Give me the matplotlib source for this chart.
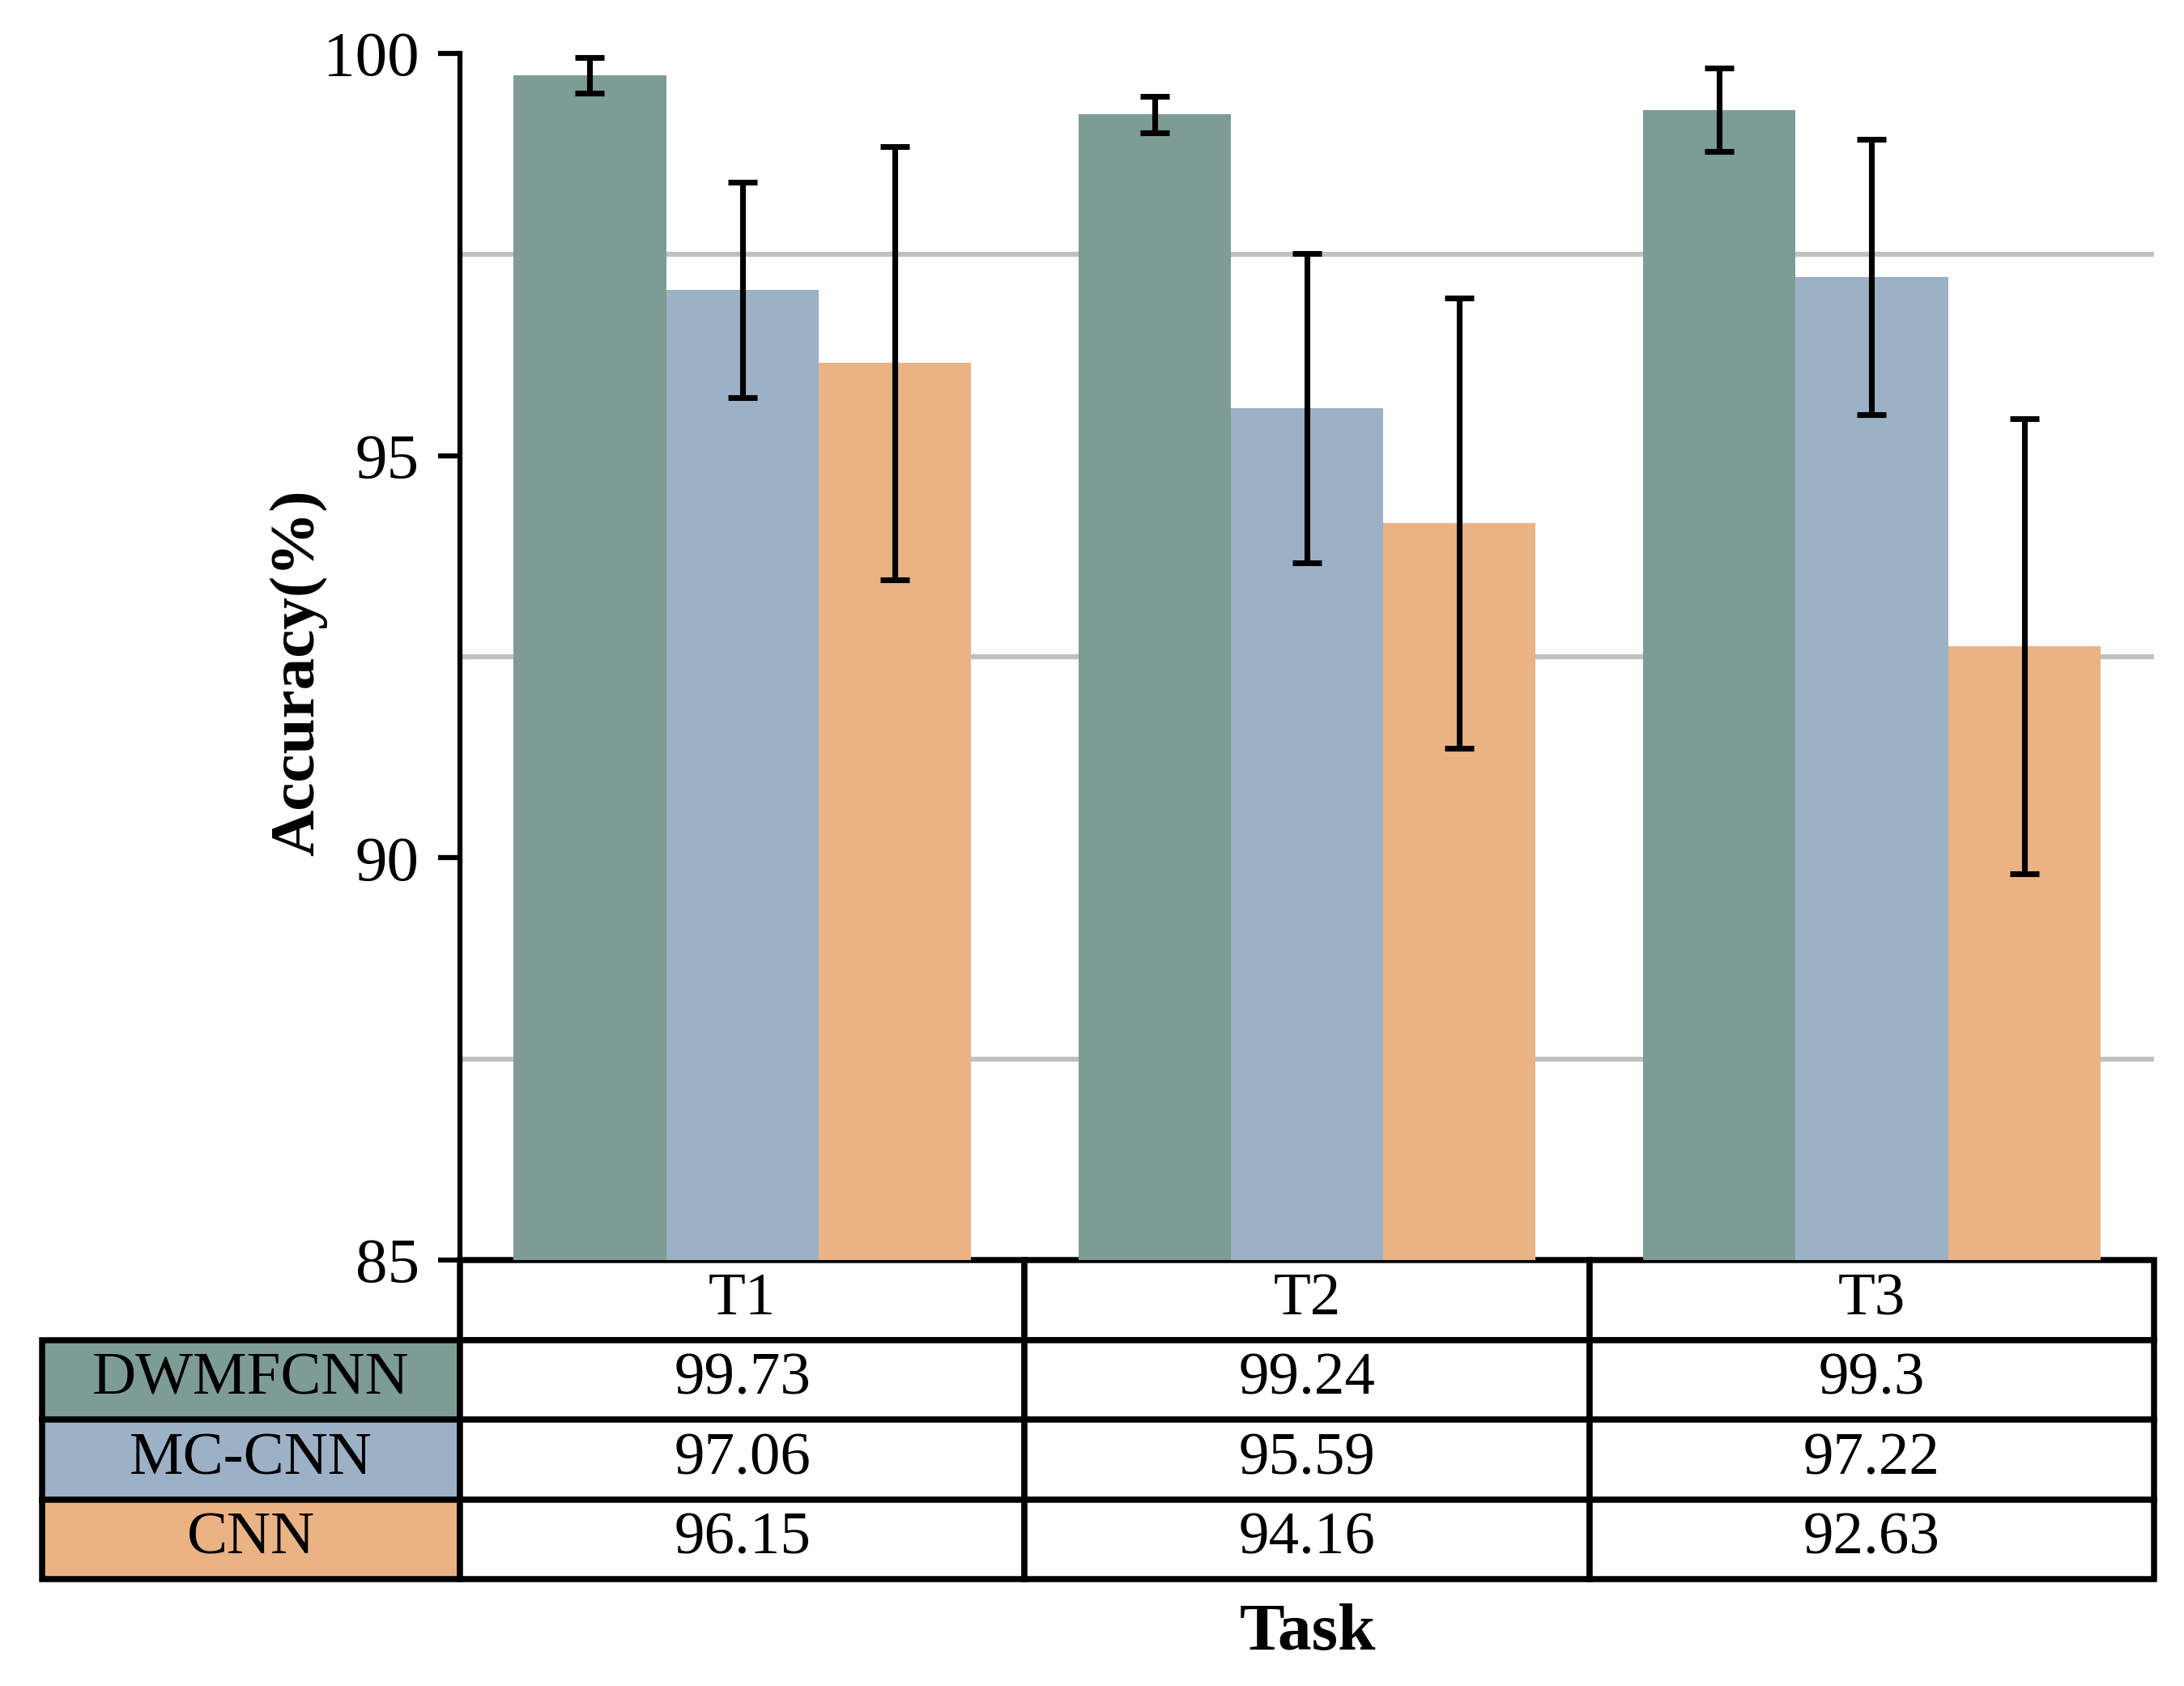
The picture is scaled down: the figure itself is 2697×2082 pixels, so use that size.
import matplotlib
matplotlib.use("Agg")
import matplotlib.pyplot as plt
import numpy as np

plt.rcParams["font.family"] = ["Liberation Serif", "DejaVu Serif"]

tasks = ["T1", "T2", "T3"]
methods = ["DWMFCNN", "MC-CNN", "CNN"]
colors = ["#7D9C96", "#9DB1C6", "#EAB384"]

# mean accuracy (%) per method, per task
dwmfcnn = [99.73, 99.24, 99.3]
mccnn = [97.06, 95.59, 97.22]
cnn = [96.15, 94.16, 92.63]

# half-width of error bars
dwmfcnn_err = [0.22, 0.23, 0.52]
mccnn_err = [1.34, 1.92, 1.71]
cnn_err = [2.69, 2.80, 2.83]

values = [dwmfcnn, mccnn, cnn]
errors = [dwmfcnn_err, mccnn_err, cnn_err]

fig = plt.figure(figsize=(8.99, 6.94), dpi=300)
ax = fig.add_axes([0.2106, 0.2526, 0.7757, 0.7157])

x = np.arange(len(tasks))
w = 0.27
for i in range(len(methods)):
    ax.bar(x + (i - 1) * w, values[i], width=w, color=colors[i], zorder=2)
    ax.errorbar(x + (i - 1) * w, values[i], yerr=errors[i], fmt="none",
                ecolor="black", elinewidth=1.7, capsize=4.4, capthick=1.7,
                zorder=3)

ax.set_xlim(-0.5, 2.5)
ax.set_ylim(85, 100)
ax.set_yticks([85, 90, 95, 100])
ax.set_yticks([87.5, 90, 92.5, 95, 97.5], minor=True)
ax.yaxis.grid(True, which="minor", color="#C0C0C0", linewidth=1.5, zorder=0)
ax.yaxis.grid(False, which="major")
ax.tick_params(axis="y", which="major", direction="out", length=6.5,
               width=1.5, pad=5.5, labelsize=19)
ax.tick_params(axis="y", which="minor", length=0)
ax.set_xticks([])
for s in ["top", "right", "bottom"]:
    ax.spines[s].set_visible(False)
ax.spines["left"].set_linewidth(1.5)

# table below the bars
cell_text = [[""] + tasks]
cell_colours = [["white"] * 4]
for i, m in enumerate(methods):
    cell_text.append([m] + [f"{v:g}" for v in values[i]])
    cell_colours.append([colors[i]] + ["white"] * 3)

lab_w = 0.2467
tbl = ax.table(cellText=cell_text, cellColours=cell_colours,
               cellLoc="center", bbox=[-lab_w, -0.2644, 1 + lab_w, 0.2644])
tbl.auto_set_font_size(False)
tbl.set_fontsize(18)
for (r, c), cell in tbl.get_celld().items():
    cell.set_width(lab_w if c == 0 else 1 / 3)
    cell.set_linewidth(1.8)
    cell.set_edgecolor("black")
    if r == 0 and c == 0:
        cell.visible_edges = ""

fig.text(0.5986, 0.031, "Task", ha="center", va="center",
         fontsize=20, fontweight="bold")
fig.text(0.1365, 0.601, "Accuracy(%)", ha="center", va="center",
         rotation=90, fontsize=19, fontweight="bold")

fig.savefig("out.png", dpi=300)
